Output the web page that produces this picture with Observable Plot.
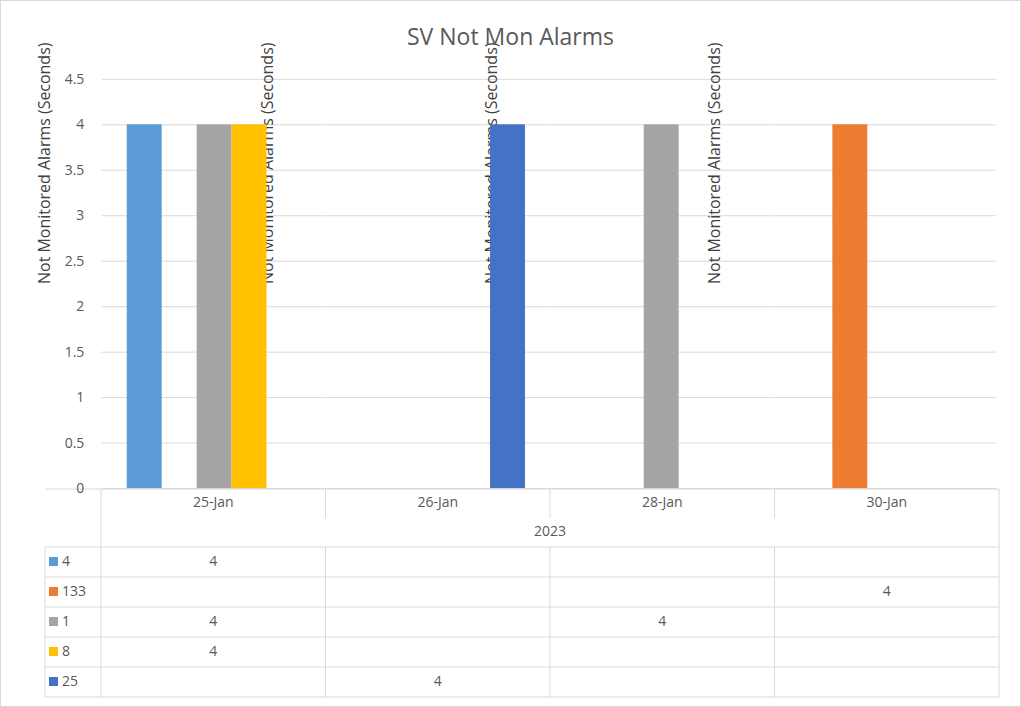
<!DOCTYPE html>
<html>
<head>
<meta charset="utf-8">
<script src="https://cdn.jsdelivr.net/npm/d3@7"></script>
<script src="https://cdn.jsdelivr.net/npm/@observablehq/plot@0.6"></script>
<style>
  body { margin: 0; background: white; font-family: "Open Sans", "Noto Sans", sans-serif; }
  #wrap { position: relative; width: 1019px; height: 705px; border: 1px solid #d9d9d9; overflow: hidden; }
  #title { position: absolute; top: 19px; left: 0; width: 100%; text-align: center; font-size: 23px; color: #595959; }
  #chart { position: absolute; top: 0; left: 0; }
  #table { position: absolute; top: 0; left: 0; }
</style>
</head>
<body>
<div id="wrap">
  <div id="table"></div>
  <div id="chart"></div>
  <div id="title">SV Not Mon Alarms</div>
</div>
<script>
const dates = ["25-Jan", "26-Jan", "28-Jan", "30-Jan"]
const series = ["4", "133", "1", "8", "25"]
const colors = ["#5B9BD5", "#ED7D31", "#A5A5A5", "#FFC000", "#4472C4"]
// value per series per date (null = no value)
const s4 = [4, null, null, null]
const s133 = [null, null, null, 4]
const s1 = [4, null, 4, null]
const s8 = [4, null, null, null]
const s25 = [null, 4, null, null]
const yTicks = [0, 0.5, 1, 1.5, 2, 2.5, 3, 3.5, 4, 4.5]
const year = "2023"

const values = [s4, s133, s1, s8, s25]
const data = []
series.forEach((s, i) => dates.forEach((d, j) => {
  if (values[i][j] != null) data.push({date: d, series: s, value: values[i][j]})
}))

const W = 1021, left = 100, right = 23, bottom = 488

let chart = Plot.plot({
  width: W,
  height: bottom + 12,
  marginLeft: left,
  marginRight: right,
  marginTop: 78,
  marginBottom: 12,
  style: {fontFamily: "Open Sans, Noto Sans, sans-serif", fontSize: "14px", color: "#595959", background: "transparent"},
  fx: {domain: dates, padding: 0, axis: null},
  x: {domain: series, paddingInner: 0, paddingOuter: 0.7, axis: null},
  y: {domain: [0, 4.5]},
  color: {domain: series, range: colors},
  marks: [
    Plot.gridY(yTicks, {stroke: "#d9d9d9", strokeOpacity: 1}),
    Plot.axisY(yTicks, {tickSize: 0, tickPadding: 18, fontSize: 14, tickFormat: d => String(d),
      label: null}),
    Plot.text(["Not Monitored Alarms (Seconds)"], {frameAnchor: "left", dx: -58, rotate: -90, fontSize: 16, fill: "#404040"}),
    Plot.barY(data, {fx: "date", x: "series", y: "value", fill: "series", insetLeft: 0, insetRight: 0})
  ]
})
d3.select("#chart").append(() => chart)

// data table under the chart
const colW = (W - left - right) / dates.length
const rowH = 30
const tbl = d3.select("#table").append("svg").attr("width", W).attr("height", 707)
  .style("font-family", "Open Sans, Noto Sans, sans-serif").style("font-size", "14px")
const line = (x1, y1, x2, y2) => tbl.append("line").attr("x1", x1).attr("y1", y1).attr("x2", x2).attr("y2", y2)
  .attr("stroke", "#d9d9d9").attr("stroke-width", 1)
const text = (x, y, t, anchor) => tbl.append("text").attr("x", x).attr("y", y).attr("text-anchor", anchor || "middle")
  .attr("dominant-baseline", "middle").attr("fill", "#595959").text(t)

line(44, bottom, W - right, bottom)
for (let i = 0; i <= dates.length; i++) line(left + i * colW, bottom, left + i * colW, bottom + 29)
dates.forEach((d, i) => text(left + (i + 0.5) * colW, bottom + 14, d))
line(left, bottom + 29, left, bottom + 58)
line(W - right, bottom + 29, W - right, bottom + 58)
text(left + (W - left - right) / 2, bottom + 43, year)
const t0 = bottom + 58
for (let r = 0; r <= series.length; r++) line(44, t0 + r * rowH, W - right, t0 + r * rowH)
line(44, t0, 44, t0 + series.length * rowH)
for (let i = 0; i <= dates.length; i++) line(left + i * colW, t0, left + i * colW, t0 + series.length * rowH)
series.forEach((s, r) => {
  const cy = t0 + r * rowH + rowH / 2
  tbl.append("rect").attr("x", 48).attr("y", cy - 5).attr("width", 9).attr("height", 9).attr("fill", colors[r])
  text(61, cy, s, "start")
  values[r].forEach((v, j) => { if (v != null) text(left + (j + 0.5) * colW, cy, String(v)) })
})
</script>
</body>
</html>
